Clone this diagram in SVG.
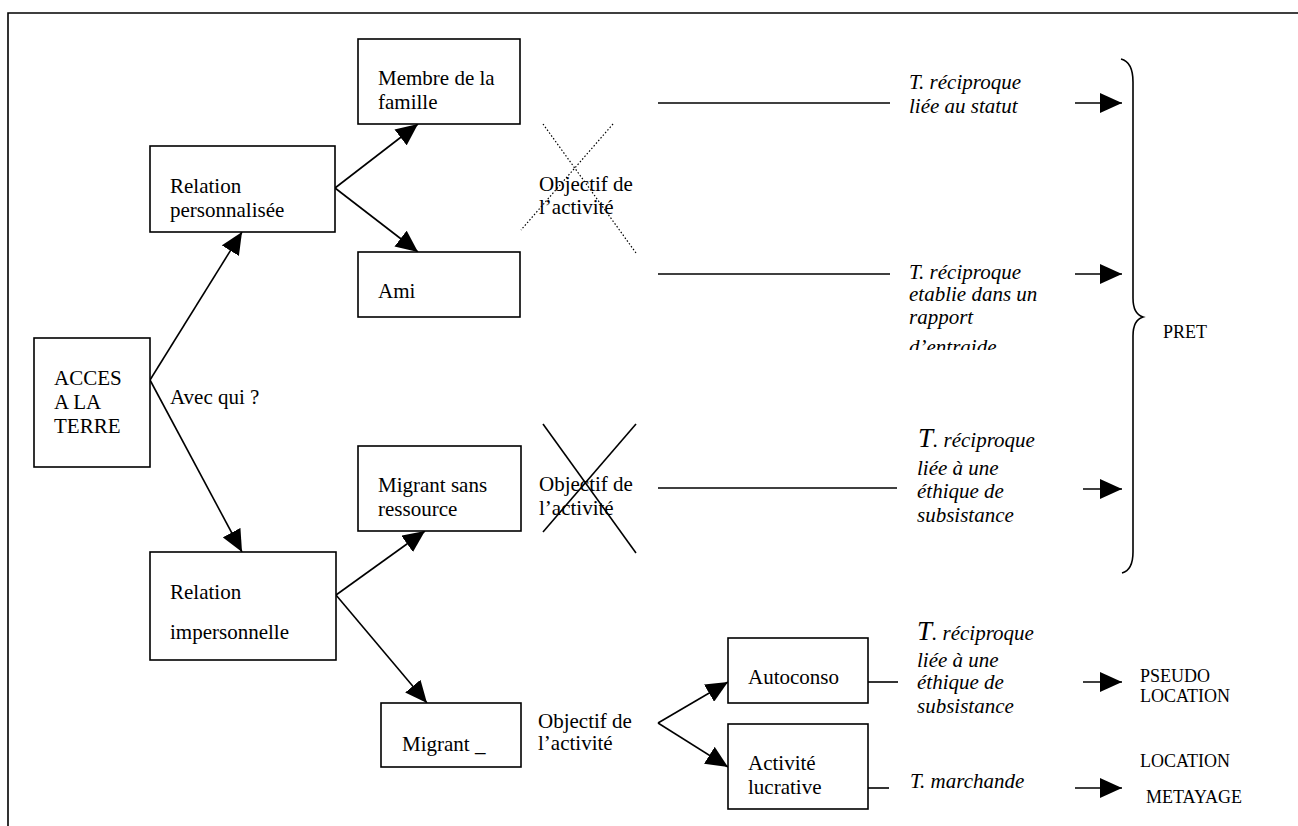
<svg xmlns="http://www.w3.org/2000/svg" width="1298" height="826" viewBox="0 0 1298 826">
<style>
.box{fill:#fff;stroke:#000;stroke-width:1.6}
.t{font-family:"Liberation Serif","Times New Roman",serif;font-size:21px;fill:#000}
.it{font-family:"Liberation Serif","Times New Roman",serif;font-size:21px;font-style:italic;fill:#000}
.sm{font-family:"Liberation Serif","Times New Roman",serif;font-size:18px;fill:#000}
.ln{stroke:#000;stroke-width:1.6;fill:none}
.ar{stroke:#000;stroke-width:1.6;fill:none;marker-end:url(#ah)}
.dot{stroke:#000;stroke-width:1.2;stroke-dasharray:1.5 2;fill:none}
</style>
<defs>
<marker id="ah" markerUnits="userSpaceOnUse" markerWidth="22" markerHeight="20" refX="22" refY="10" orient="auto">
<path d="M0,0 L22,10 L0,20 z" fill="#000"/>
</marker>
<clipPath id="clipEntraide"><rect x="900" y="330" width="200" height="20"/></clipPath>
</defs>
<rect width="1298" height="826" fill="#fff"/>
<g id="frame">
<path d="M8,826 L8,13 L1298,13" class="ln" stroke-width="2"/>
</g>
<g id="connectors">
<line class="ar" x1="150" y1="380" x2="242" y2="232"/>
<line class="ar" x1="150" y1="380" x2="242" y2="552"/>
<line class="ar" x1="335" y1="188" x2="418" y2="124"/>
<line class="ar" x1="335" y1="188" x2="418" y2="252"/>
<line class="ar" x1="336" y1="595" x2="425" y2="531"/>
<line class="ar" x1="336" y1="595" x2="427" y2="703"/>
<line class="ar" x1="658" y1="723" x2="728" y2="682"/>
<line class="ar" x1="658" y1="723" x2="728" y2="767"/>
<line class="ln" x1="658" y1="103" x2="890" y2="103"/>
<line class="ln" x1="658" y1="274" x2="890" y2="274"/>
<line class="ln" x1="658" y1="488" x2="897" y2="488"/>
<line class="ln" x1="868" y1="682" x2="898" y2="682"/>
<line class="ln" x1="868" y1="788" x2="889" y2="788"/>
<line class="ar" x1="1075" y1="103" x2="1122" y2="103"/>
<line class="ar" x1="1075" y1="274" x2="1122" y2="274"/>
<line class="ar" x1="1083" y1="489" x2="1122" y2="489"/>
<line class="ar" x1="1083" y1="682" x2="1122" y2="682"/>
<line class="ar" x1="1075" y1="788" x2="1122" y2="788"/>
<path class="ln" stroke-width="2" d="M1121,59 Q1133,62 1133,82 L1133,298 Q1133,314 1143,317 Q1133,320 1133,336 L1133,552 Q1133,570 1122,573"/>
</g>
<g id="cross1">
<line class="dot" x1="543" y1="124" x2="636" y2="253"/>
<line class="dot" x1="613" y1="124" x2="521" y2="230"/>
</g>
<g id="cross2">
<line class="ln" x1="543" y1="424" x2="636" y2="553"/>
<line class="ln" x1="636" y1="424" x2="543" y2="532"/>
</g>
<g id="acces">
<rect class="box" x="34" y="338" width="116" height="129"/>
<text class="t" x="54" y="385">ACCES</text>
<text class="t" x="54" y="409">A LA</text>
<text class="t" x="54" y="433">TERRE</text>
</g>
<g id="avecqui"><text class="t" x="170" y="404">Avec qui ?</text></g>
<g id="relpers">
<rect class="box" x="150" y="146" width="185" height="86"/>
<text class="t" x="170" y="193">Relation</text>
<text class="t" x="170" y="217">personnalisée</text>
</g>
<g id="relimp">
<rect class="box" x="150" y="552" width="186" height="108"/>
<text class="t" x="170" y="599">Relation</text>
<text class="t" x="170" y="639">impersonnelle</text>
</g>
<g id="membre">
<rect class="box" x="358" y="39" width="162" height="85"/>
<text class="t" x="378" y="85">Membre de la</text>
<text class="t" x="378" y="109">famille</text>
</g>
<g id="ami">
<rect class="box" x="358" y="252" width="162" height="65"/>
<text class="t" x="378" y="298">Ami</text>
</g>
<g id="migsans">
<rect class="box" x="358" y="446" width="163" height="85"/>
<text class="t" x="378" y="492">Migrant sans</text>
<text class="t" x="378" y="516">ressource</text>
</g>
<g id="migrant">
<rect class="box" x="381" y="703" width="140" height="64"/>
<text class="t" x="402" y="751" font-size="24">Migrant _</text>
</g>
<g id="obj1">
<text class="t" x="539" y="191">Objectif de</text>
<text class="t" x="539" y="214">l’activité</text>
</g>
<g id="obj2">
<text class="t" x="539" y="491">Objectif de</text>
<text class="t" x="539" y="515">l’activité</text>
</g>
<g id="obj3">
<text class="t" x="538" y="728">Objectif de</text>
<text class="t" x="538" y="750">l’activité</text>
</g>
<g id="autoconso">
<rect class="box" x="728" y="638" width="140" height="65"/>
<text class="t" x="748" y="684">Autoconso</text>
</g>
<g id="activite">
<rect class="box" x="728" y="724" width="140" height="85"/>
<text class="t" x="748" y="770">Activité</text>
<text class="t" x="748" y="794">lucrative</text>
</g>
<g id="tr1">
<text class="it" x="909" y="89">T. réciproque</text>
<text class="it" x="909" y="113">liée au statut</text>
</g>
<g id="tr2">
<text class="it" x="909" y="279">T. réciproque</text>
<text class="it" x="909" y="301">etablie dans un</text>
<text class="it" x="909" y="324">rapport</text>
<text class="it" x="909" y="354" clip-path="url(#clipEntraide)">d’entraide</text>
</g>
<g id="tr3">
<text class="it" x="918" y="447"><tspan font-size="27">T</tspan>. réciproque</text>
<text class="it" x="917" y="475">liée à une</text>
<text class="it" x="917" y="498">éthique de</text>
<text class="it" x="917" y="522">subsistance</text>
</g>
<g id="tr4">
<text class="it" x="917" y="640"><tspan font-size="27">T</tspan>. réciproque</text>
<text class="it" x="917" y="667">liée à une</text>
<text class="it" x="917" y="689">éthique de</text>
<text class="it" x="917" y="713">subsistance</text>
</g>
<g id="tm"><text class="it" x="910" y="788">T. marchande</text></g>
<g id="pret"><text class="sm" x="1163" y="338">PRET</text></g>
<g id="pseudo">
<text class="sm" x="1140" y="682">PSEUDO</text>
<text class="sm" x="1140" y="702">LOCATION</text>
</g>
<g id="location"><text class="sm" x="1140" y="767">LOCATION</text></g>
<g id="metayage"><text class="sm" x="1146" y="803">METAYAGE</text></g>
</svg>
